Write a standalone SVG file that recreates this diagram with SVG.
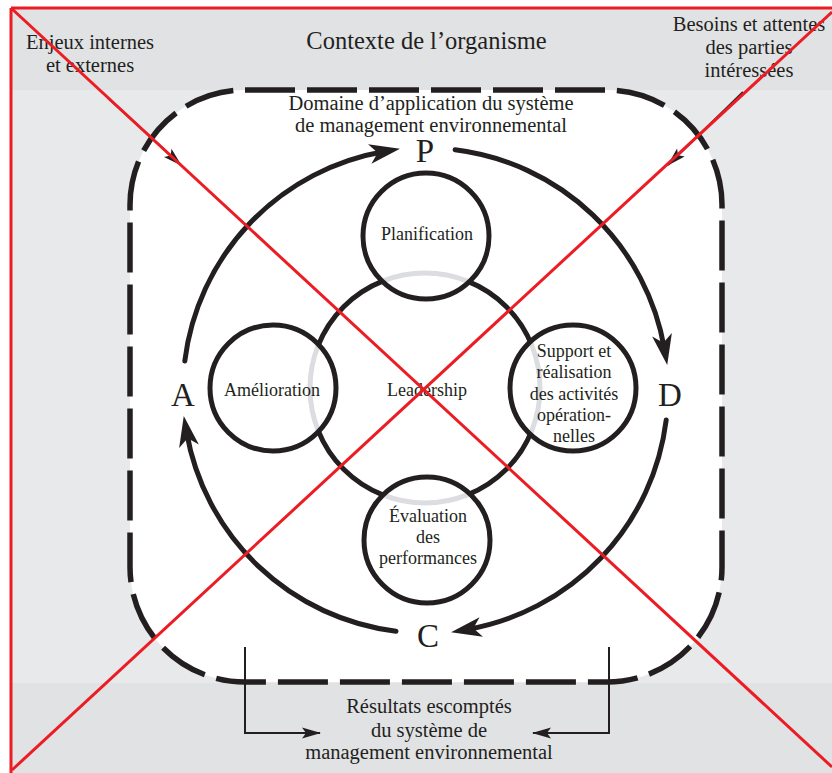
<svg xmlns="http://www.w3.org/2000/svg" width="832" height="773" viewBox="0 0 832 773">
  <style>
    .t { font-family: "Liberation Serif", "Times New Roman", serif; fill: #231f20; text-anchor: middle; }
    .big { font-size: 33px; }
    .lbl { font-size: 20.5px; }
    .in { font-size: 18px; }
    .ring { fill: none; stroke: #231f20; stroke-width: 5; }
    .cyc { fill: none; stroke: #231f20; stroke-width: 5; stroke-linecap: round; marker-end: url(#bigArrow); }
    .thin { fill: none; stroke: #231f20; stroke-width: 2; marker-end: url(#smallArrow); }
    .red { stroke: #ec1c24; stroke-width: 3; fill: none; }
  </style>
  <defs>
    <marker id="bigArrow" markerUnits="userSpaceOnUse" markerWidth="40" markerHeight="30" viewBox="-15 -10 30 20" refX="0" refY="0" orient="auto" overflow="visible">
      <path d="M12,0 L-11,-7.5 L-5,0 L-11,7.5 Z" fill="#231f20"/>
    </marker>
    <marker id="smallArrow" markerUnits="userSpaceOnUse" markerWidth="30" markerHeight="20" viewBox="-20 -10 30 20" refX="0" refY="0" orient="auto" overflow="visible">
      <path d="M1,0 L-18,-5.5 L-14,0 L-18,5.5 Z" fill="#231f20"/>
    </marker>
    <clipPath id="inner">
      <circle cx="426" cy="236" r="61"/>
      <circle cx="427" cy="540" r="61"/>
      <circle cx="273" cy="388" r="61"/>
      <circle cx="573" cy="388" r="61"/>
    </clipPath>
  </defs>

  <g id="background">
    <rect x="0" y="0" width="832" height="773" fill="#ffffff"/>
    <rect x="11" y="8" width="821" height="765" fill="#e1e2e4"/>
    <rect x="11" y="90" width="821" height="593" fill="#e8e9eb"/>
    <rect x="130" y="90" width="592" height="592" rx="115" ry="115" fill="#ffffff"/>
  </g>

  <g id="scope-frame">
    <rect x="130" y="90" width="592" height="592" rx="115" ry="115" fill="none" stroke="#231f20" stroke-width="5.5" stroke-dasharray="50 12"/>
  </g>

  <g id="labels">
    <text class="t" x="426.5" y="49" font-size="24.5">Contexte de l’organisme</text>
    <text class="t lbl" x="90" y="49">Enjeux internes</text>
    <text class="t lbl" x="90" y="72">et externes</text>
    <text class="t lbl" x="749" y="31">Besoins et attentes</text>
    <text class="t lbl" x="749" y="54">des parties</text>
    <text class="t lbl" x="749" y="77">intéressées</text>
    <text class="t lbl" x="431" y="110">Domaine d’application du système</text>
    <text class="t lbl" x="431" y="132">de management environnemental</text>
    <text class="t big" x="425" y="162">P</text>
    <text class="t big" x="183" y="406">A</text>
    <text class="t big" x="670" y="406">D</text>
    <text class="t big" x="428" y="647">C</text>
    <text class="t lbl" x="429" y="713">Résultats escomptés</text>
    <text class="t lbl" x="429" y="737">du système de</text>
    <text class="t lbl" x="429" y="759">management environnemental</text>
  </g>

  <g id="connectors">
    <path class="cyc" d="M184.8,361 A242.5,242.5 0 0 1 384.2,151.5"/>
    <path class="cyc" d="M455.1,149.8 A242.5,242.5 0 0 1 664.5,349.2"/>
    <path class="cyc" d="M666.2,420 A242.5,242.5 0 0 1 466.8,629.5"/>
    <path class="cyc" d="M396,631.2 A242.5,242.5 0 0 1 186.5,431.8"/>
    <path class="thin" d="M108,98 L181,165"/>
    <path class="thin" d="M743,92 L668,165"/>
    <path class="thin" d="M245,647 L245,733 L320,733"/>
    <path class="thin" d="M609,647 L609,733 L533,733"/>
  </g>

  <g id="leadership">
    <circle class="ring" cx="425" cy="388" r="115" fill="#ffffff"/>
    <text class="t in" x="427" y="396">Leadership</text>
  </g>

  <g id="node-fills">
    <circle cx="426" cy="236" r="63" fill="#ffffff"/>
    <circle cx="427" cy="540" r="63" fill="#ffffff"/>
    <circle cx="273" cy="388" r="63" fill="#ffffff"/>
    <circle cx="573" cy="388" r="63" fill="#ffffff"/>
    <circle cx="425" cy="388" r="115" fill="none" stroke="#dcdde0" stroke-width="5" clip-path="url(#inner)"/>
  </g>

  <g id="planification">
    <circle class="ring" cx="426" cy="236" r="63"/>
    <text class="t in" x="427" y="240">Planification</text>
  </g>
  <g id="support">
    <circle class="ring" cx="573" cy="388" r="63"/>
    <text class="t in" x="574" y="357">Support et</text>
    <text class="t in" x="574" y="378">réalisation</text>
    <text class="t in" x="574" y="400">des activités</text>
    <text class="t in" x="574" y="421">opération-</text>
    <text class="t in" x="574" y="442">nelles</text>
  </g>
  <g id="evaluation">
    <circle class="ring" cx="427" cy="540" r="63"/>
    <text class="t in" x="428" y="522">Évaluation</text>
    <text class="t in" x="428" y="543">des</text>
    <text class="t in" x="428" y="564">performances</text>
  </g>
  <g id="amelioration">
    <circle class="ring" cx="273" cy="388" r="63"/>
    <text class="t in" x="272" y="396">Amélioration</text>
  </g>

  <g id="red-cross">
    <path class="red" d="M11,8 L832,8 M11,8 L11,773"/>
    <path class="red" d="M11,8 L832,767"/>
    <path class="red" d="M832,12 L12,770"/>
  </g>
</svg>
